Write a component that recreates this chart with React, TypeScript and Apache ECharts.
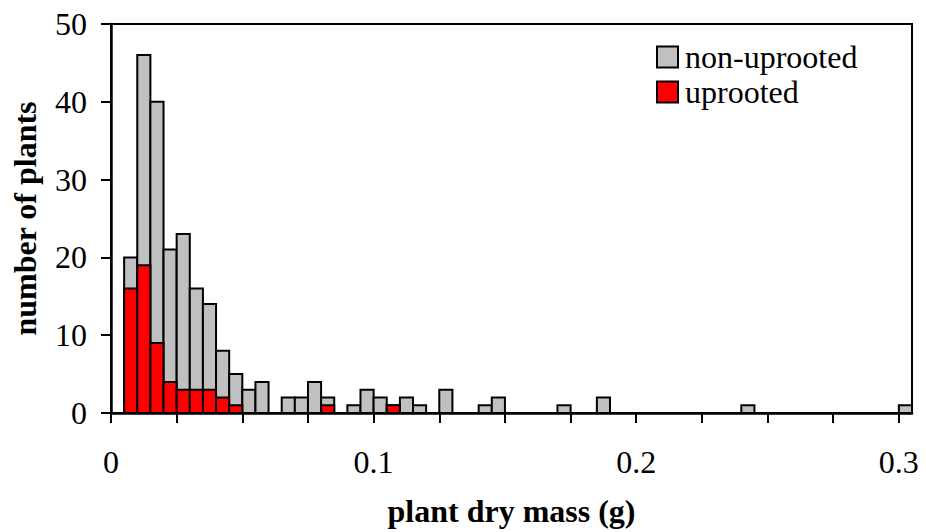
import React, { useEffect, useRef } from "react";
import * as echarts from "echarts";

// Histogram bins (lower edges, g), bin width 0.005 g
const binWidth = 0.005;
const binStart = [
  0.005, 0.01, 0.015, 0.02, 0.025, 0.03, 0.035, 0.04, 0.045, 0.05, 0.055, 0.065,
  0.07, 0.075, 0.08, 0.09, 0.095, 0.1, 0.105, 0.11, 0.115, 0.125, 0.14, 0.145,
  0.17, 0.185, 0.24, 0.3,
];
// total plants per bin (non-uprooted + uprooted)
const totalCounts = [
  20, 46, 40, 21, 23, 16, 14, 8, 5, 3, 4, 2, 2, 4, 2, 1, 3, 2, 1, 2, 1, 3, 1, 2,
  1, 2, 1, 1,
];
// uprooted plants per bin
const uprootedCounts = [
  16, 19, 9, 4, 3, 3, 3, 2, 1, 0, 0, 0, 0, 0, 1, 0, 0, 0, 1, 0, 0, 0, 0, 0, 0, 0,
  0, 0,
];
const xTickValues = [
  0, 0.025, 0.05, 0.075, 0.1, 0.125, 0.15, 0.175, 0.2, 0.225, 0.25, 0.275, 0.3,
];
const xLabelValues = [0, 0.1, 0.2, 0.3];

const FONT = "'Liberation Serif', 'Times New Roman', serif";
const GRAY = "#c0c0c0";
const RED = "#ff0000";
const TICK_FS = 32;
const TITLE_FS = 32;

export default function App() {
  const ref = useRef<HTMLDivElement>(null);

  useEffect(() => {
    if (!ref.current) return;
    const chart = echarts.init(ref.current, undefined, { renderer: "svg" });

    const makeRender = (fill: string) => (params: any, api: any) => {
      const x0 = api.value(0);
      const x1 = api.value(1);
      const v = api.value(2);
      if (!v) return null;
      const tl = api.coord([x0, v]);
      const br = api.coord([x1, 0]);
      return {
        type: "rect",
        shape: { x: tl[0], y: tl[1], width: br[0] - tl[0], height: br[1] - tl[1] },
        style: { fill, stroke: "#000", lineWidth: 2 },
      };
    };

    const totalData = binStart.map((s, i) => [s, s + binWidth, totalCounts[i]]);
    const upData = binStart.map((s, i) => [s, s + binWidth, uprootedCounts[i]]);

    const legendText = {
      fontFamily: FONT,
      fontSize: TICK_FS,
      color: "#000",
      padding: [0, 0, 0, 2],
    };

    chart.setOption({
      animation: false,
      backgroundColor: "#fff",
      textStyle: { fontFamily: FONT },
      grid: {
        left: 111,
        right: 14,
        top: 24,
        bottom: 115,
        show: true,
        borderColor: "#000",
        borderWidth: 2,
        backgroundColor: "transparent",
      },
      legend: [
        {
          orient: "vertical",
          left: 656,
          top: 41,
          padding: 0,
          itemWidth: 21,
          itemHeight: 21,
          icon: "rect",
          textStyle: legendText,
          data: [
            {
              name: "non-uprooted",
              itemStyle: { color: GRAY, borderColor: "#000", borderWidth: 2 },
            },
          ],
        },
        {
          orient: "vertical",
          left: 656,
          top: 76,
          padding: 0,
          itemWidth: 21,
          itemHeight: 21,
          icon: "rect",
          textStyle: legendText,
          data: [
            {
              name: "uprooted",
              itemStyle: { color: RED, borderColor: "#000", borderWidth: 2 },
            },
          ],
        },
      ],
      xAxis: {
        type: "value",
        min: 0,
        max: 0.305,
        interval: 0.025,
        splitLine: { show: false },
        axisLine: { show: true, lineStyle: { color: "#000", width: 2.5 } },
        axisTick: {
          show: true,
          length: 10,
          lineStyle: { color: "#000", width: 2 },
          customValues: xTickValues,
        },
        axisLabel: {
          fontFamily: FONT,
          fontSize: TICK_FS,
          color: "#000",
          margin: 33,
          customValues: xLabelValues,
          formatter: (v: number) => String(Math.round(v * 10) / 10),
        },
        name: "plant dry mass (g)",
        nameLocation: "middle",
        nameGap: 82,
        nameTextStyle: {
          fontFamily: FONT,
          fontSize: TITLE_FS,
          fontWeight: "bold",
          color: "#000",
        },
      },
      yAxis: {
        type: "value",
        min: 0,
        max: 50,
        interval: 10,
        splitLine: { show: false },
        axisLine: { show: true, lineStyle: { color: "#000", width: 2.5 } },
        axisTick: { show: true, length: 10, lineStyle: { color: "#000", width: 2 } },
        axisLabel: {
          fontFamily: FONT,
          fontSize: TICK_FS,
          color: "#000",
          margin: 24,
        },
        name: "number of plants",
        nameLocation: "middle",
        nameGap: 70,
        nameTextStyle: {
          fontFamily: FONT,
          fontSize: TITLE_FS,
          fontWeight: "bold",
          color: "#000",
        },
      },
      series: [
        {
          name: "non-uprooted",
          type: "custom",
          renderItem: makeRender(GRAY),
          itemStyle: { color: GRAY },
          encode: { x: [0, 1], y: 2 },
          data: totalData,
          z: 2,
        },
        {
          name: "uprooted",
          type: "custom",
          renderItem: makeRender(RED),
          itemStyle: { color: RED },
          encode: { x: [0, 1], y: 2 },
          data: upData,
          z: 3,
        },
      ],
    });

    return () => chart.dispose();
  }, []);

  return (
    <div
      ref={ref}
      style={{ position: "absolute", left: 0, top: 0, width: 926, height: 532 }}
    />
  );
}
